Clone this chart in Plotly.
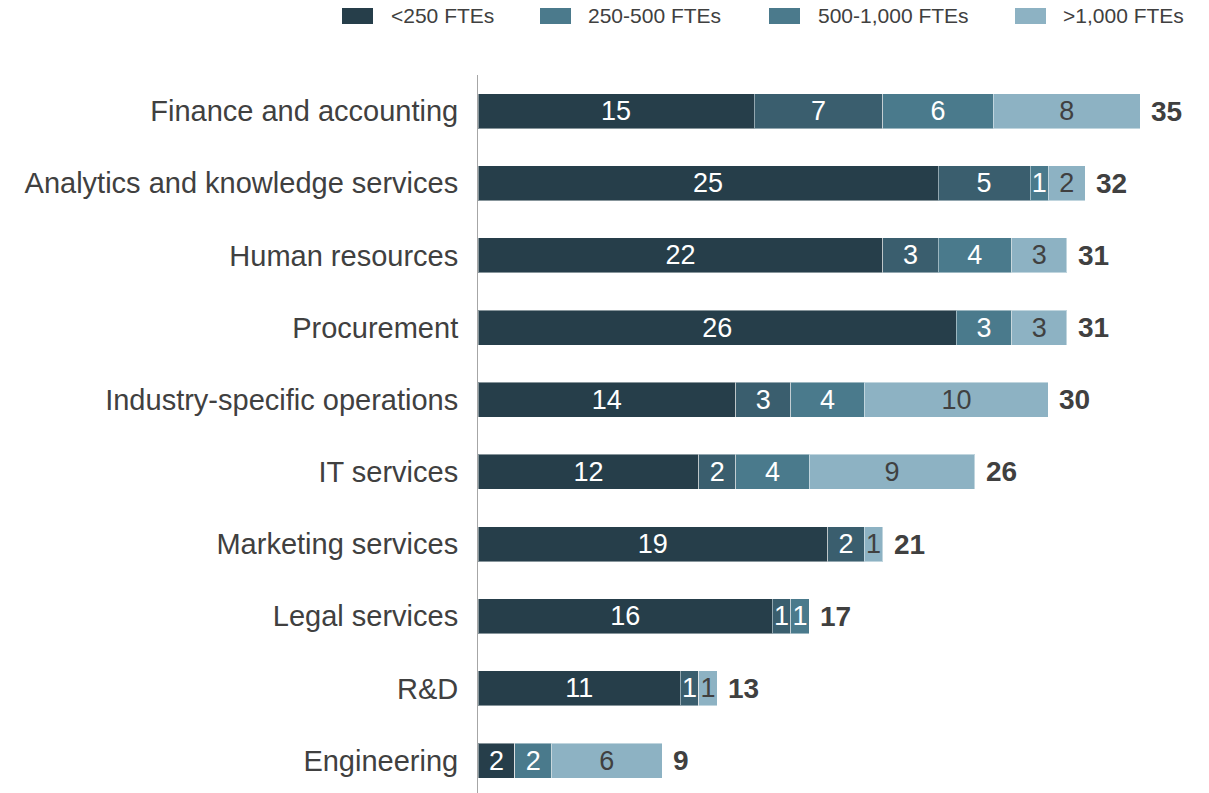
import plotly.graph_objects as go

categories = ["Finance and accounting", "Analytics and knowledge services", "Human resources",
              "Procurement", "Industry-specific operations", "IT services", "Marketing services",
              "Legal services", "R&D", "Engineering"]
series_names = ["<250 FTEs", "250-500 FTEs", "500-1,000 FTEs", ">1,000 FTEs"]
lt250 = [15, 25, 22, 26, 14, 12, 19, 16, 11, 2]
s250_500 = [7, 5, 3, 0, 3, 2, 2, 1, 1, 0]
s500_1000 = [6, 1, 4, 3, 4, 4, 0, 1, 0, 2]
gt1000 = [8, 2, 3, 3, 10, 9, 1, 0, 1, 6]
totals = [35, 32, 31, 31, 30, 26, 21, 17, 13, 9]

bar_colors = ["#263e4a", "#3a5e6e", "#4a7a8c", "#8db2c3"]
legend_colors = ["#263e4a", "#4b7a8c", "#4b7a8c", "#8db2c3"]
text_colors = ["#ffffff", "#ffffff", "#ffffff", "#404040"]

W, H = 1209, 793
L, R, T, B = 478, 0, 75, 0
FONT = "Liberation Sans, Arial, sans-serif"

fig = go.Figure()
for name, vals, col, tcol in zip(series_names, [lt250, s250_500, s500_1000, gt1000], bar_colors, text_colors):
    fig.add_trace(go.Bar(
        y=categories, x=vals, orientation="h", name=name,
        marker=dict(color=col, line=dict(color="rgba(255,255,255,0.45)", width=1)),
        text=[str(v) if v else "" for v in vals],
        textposition="inside", insidetextanchor="middle", textangle=0,
        textfont=dict(family=FONT, size=27, color=tcol),
        showlegend=False, hoverinfo="skip",
    ))

sums = [a + b + c + d for a, b, c, d in zip(lt250, s250_500, s500_1000, gt1000)]
for cat, s, t in zip(categories, sums, totals):
    fig.add_annotation(x=s, y=cat, text=f"<b>{t}</b>", showarrow=False, xanchor="left",
                       xshift=9, font=dict(family=FONT, size=28, color="#404040"))

plot_w = W - L - R
plot_h = H - T - B
def px_x(p):
    return (p - L) / plot_w
def px_y(p):
    return (H - B - p) / plot_h

legend_sq_x = [342, 540, 769, 1015]
legend_tx_x = [389, 586, 816, 1061]
for name, col, sx, tx in zip(series_names, legend_colors, legend_sq_x, legend_tx_x):
    fig.add_shape(type="rect", xref="paper", yref="paper",
                  x0=px_x(sx), x1=px_x(sx + 31), y0=px_y(24), y1=px_y(8),
                  fillcolor=col, line=dict(width=0))
    fig.add_annotation(xref="paper", yref="paper", x=px_x(tx), y=px_y(16), text=name,
                       showarrow=False, xanchor="left", yanchor="middle",
                       font=dict(family=FONT, size=21, color="#404040"))

fig.update_layout(
    width=W, height=H, barmode="stack", bargap=0.515,
    margin=dict(l=L, r=R, t=T, b=B, pad=0),
    paper_bgcolor="white", plot_bgcolor="white",
    uniformtext=dict(minsize=27, mode="show"),
    xaxis=dict(range=[0, plot_w / 18.4], visible=False, showgrid=False, zeroline=False),
    yaxis=dict(categoryorder="array", categoryarray=categories, range=[9.45, -0.5],
               showline=True, linecolor="#a6a6a6", linewidth=1, showgrid=False, zeroline=False,
               ticks="", ticklabelstandoff=13,
               tickfont=dict(family=FONT, size=29, color="#404040")),
)
fig.write_html("out.html")
